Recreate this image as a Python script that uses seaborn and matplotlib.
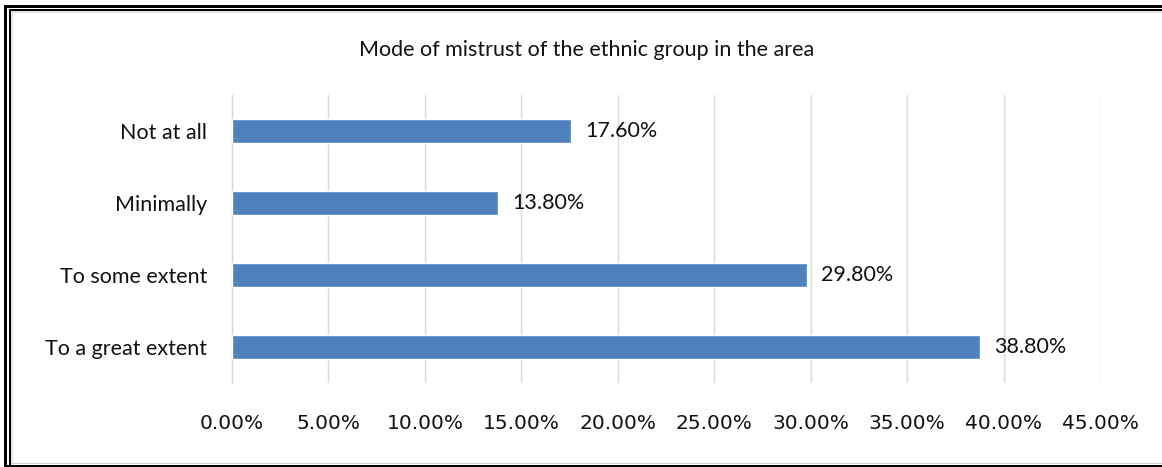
import matplotlib
matplotlib.use("Agg")
import matplotlib.pyplot as plt
import seaborn as sns
import pandas as pd
from matplotlib.patches import Rectangle
from matplotlib.ticker import FuncFormatter

categories = ["Not at all", "Minimally", "To some extent", "To a great extent"]
values = [17.6, 13.8, 29.8, 38.8]
title = "Mode of mistrust of the ethnic group in the area"

df = pd.DataFrame({"category": categories, "value": values})

sns.set_theme(style="white")
plt.rcParams["font.family"] = ["Lato", "DejaVu Sans"]

fig = plt.figure(figsize=(11.62, 4.67), dpi=100)
ax = fig.add_axes([232/1162, 1-383/467, (1100-232)/1162, (383-95)/467])

sns.barplot(data=df, x="value", y="category", order=categories, orient="h",
            color="#4F81BD", saturation=1, width=0.33, ax=ax, zorder=3)

ax.set_xlim(0, 45)
ax.set_xticks([0, 5, 10, 15, 20, 25, 30, 35, 40, 45])
ax.xaxis.set_major_formatter(FuncFormatter(lambda v, p: f"{v:.2f}%"))
ax.grid(axis="x", color="#D9D9D9", linewidth=1, zorder=0)
ax.grid(axis="y", visible=False)
for s in ["top", "right", "bottom"]:
    ax.spines[s].set_visible(False)
ax.spines["left"].set_color("#D9D9D9")
ax.spines["left"].set_linewidth(1)
ax.set_xlabel("")
ax.set_ylabel("")
ax.tick_params(axis="x", length=0, pad=22, labelcolor="#111111")
ax.tick_params(axis="y", length=0, pad=18, labelsize=15.5, labelcolor="#111111")
for lab in ax.get_xticklabels():
    lab.set_family(["DejaVu Sans"])
    lab.set_fontsize(14.5)

for i, v in enumerate(values):
    ax.annotate(f"{v:.2f}%", xy=(v, i), xytext=(10, 0), textcoords="offset points",
                va="center", ha="left", fontsize=15.5, color="#111111")

fig.text(587/1162, 1-50/467, title, ha="center", va="center", fontsize=15.5, color="#111111")

# frame drawn on a transparent overlay axes in pixel coordinates (y down)
W, H = 1162, 467
fax = fig.add_axes([0, 0, 1, 1], zorder=5)
fax.set_xlim(0, W)
fax.set_ylim(H, 0)
fax.patch.set_alpha(0)
fax.axis("off")

def strip(x0, y0, x1, y1, color="black"):
    fax.add_patch(Rectangle((x0, y0), x1 - x0, y1 - y0, facecolor=color,
                            edgecolor="none", clip_on=False))

strip(11, 11, W, 12.5, "#E3E3E3")    # chart area top
strip(11, 11, 12.5, 463, "#E3E3E3")  # chart area left
strip(11, 462.5, W, 464, "#CFCFCF")  # chart area bottom
strip(4, 5, W, 8)                    # top outer
strip(9, 9, W, 10.5)                 # top inner
strip(4, 5, 7, H)                    # left outer
strip(9, 9, 10.5, H)                 # left inner
strip(4, 465, W, H)                  # bottom black

fig.savefig("out.png", dpi=100)
